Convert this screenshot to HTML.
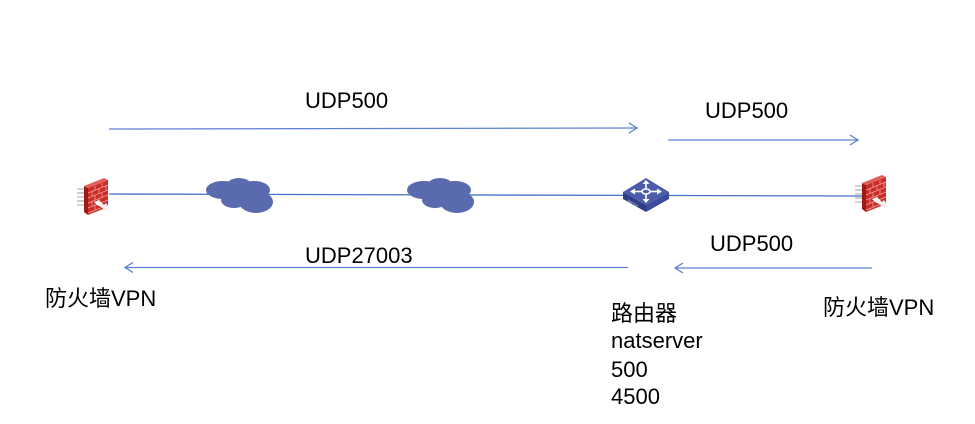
<!DOCTYPE html>
<html>
<head>
<meta charset="utf-8">
<style>
html,body{margin:0;padding:0;background:#fff;}
body{width:975px;height:424px;overflow:hidden;}
svg{display:block;}
text{font-family:"Liberation Sans","Noto Sans CJK SC",sans-serif;font-size:22px;fill:#000;}
</style>
</head>
<body>
<svg width="975" height="424" viewBox="0 0 975 424" xmlns="http://www.w3.org/2000/svg">
<defs>
  <g id="fw">
    <rect x="0" y="11" width="9" height="2" fill="#d4d4d4"/>
    <rect x="0" y="15" width="9" height="2" fill="#cccccc"/>
    <rect x="0" y="19" width="9" height="2" fill="#d4d4d4"/>
    <rect x="0" y="23" width="9" height="2" fill="#cccccc"/>
    <rect x="0" y="27" width="9" height="2" fill="#d4d4d4"/>
    <polygon points="7,9 11,11 11,38 7,35" fill="#9a1a1a"/>
    <polygon points="11,11 31,3 31,30 11,38" fill="#cc2b26"/>
    <polygon points="7,9 27,1 31,3 11,11" fill="#e2605a"/>
    <g stroke="#eaa0a0" stroke-width="0.8">
      <line x1="11" y1="16" x2="31" y2="8"/>
      <line x1="11" y1="21" x2="31" y2="13"/>
      <line x1="11" y1="26" x2="31" y2="18"/>
      <line x1="11" y1="31" x2="31" y2="23"/>
      <line x1="11" y1="36" x2="31" y2="28"/>
      <line x1="18" y1="9" x2="18" y2="13"/>
      <line x1="25" y1="6" x2="25" y2="10"/>
      <line x1="15" y1="14" x2="15" y2="19"/>
      <line x1="22" y1="11" x2="22" y2="16"/>
      <line x1="29" y1="8" x2="29" y2="13"/>
      <line x1="18" y1="18" x2="18" y2="23"/>
      <line x1="25" y1="16" x2="25" y2="20"/>
      <line x1="15" y1="24" x2="15" y2="29"/>
      <line x1="22" y1="21" x2="22" y2="26"/>
      <line x1="18" y1="28" x2="18" y2="33"/>
      <line x1="15" y1="34" x2="15" y2="37"/>
    </g>
    <polygon points="17,25 22,23 27,28 29,26 33,33 25,34 26,31 20,28" fill="#f4f4f4"/>
  </g>
  <g id="cloud" fill="#5a6aae">
    <ellipse cx="17" cy="12" rx="17" ry="9"/>
    <ellipse cx="33" cy="10" rx="14" ry="10"/>
    <ellipse cx="48" cy="12" rx="16" ry="9"/>
    <ellipse cx="28" cy="22" rx="13" ry="8"/>
    <ellipse cx="50" cy="24" rx="17" ry="11"/>
    <ellipse cx="38" cy="18" rx="14" ry="10"/>
  </g>
</defs>

<!-- middle connection line -->
<line x1="109" y1="194" x2="862" y2="196" stroke="#4472c4" stroke-width="1.3"/>

<!-- clouds -->
<use href="#cloud" x="206" y="178"/>
<use href="#cloud" x="407" y="178"/>

<!-- firewalls -->
<use href="#fw" x="77" y="177"/>
<use href="#fw" x="855" y="174"/>

<!-- switch -->
<g>
  <polygon points="623,192 646,205 646,212 623,199" fill="#2f3d86"/>
  <polygon points="646,205 669,192 669,199 646,212" fill="#3b4b9c"/>
  <polygon points="646,178 669,192 646,205 623,192" fill="#4b5cab"/>
  <g stroke="#fff" stroke-width="1.6" fill="none">
    <ellipse cx="646" cy="191.5" rx="4" ry="2.5"/>
    <line x1="646" y1="189" x2="646" y2="182"/>
    <line x1="646" y1="194" x2="646" y2="201"/>
    <line x1="642" y1="191.5" x2="633" y2="191.5"/>
    <line x1="650" y1="191.5" x2="659" y2="191.5"/>
  </g>
  <g fill="#fff">
    <polygon points="646,180 642.5,184 649.5,184"/>
    <polygon points="646,203 642.5,199 649.5,199"/>
    <polygon points="630,191.5 635,188.5 635,194.5"/>
    <polygon points="662,191.5 657,188.5 657,194.5"/>
  </g>
  <text x="627" y="201" transform="rotate(30 627 201)" style="font-size:3px;fill:#dde;">SWITCH</text>
</g>

<!-- arrows -->
<g stroke="#5b80d4" stroke-width="1.3" fill="none">
  <line x1="109" y1="129" x2="637" y2="128"/>
  <polyline points="629,123 637,128 629,133"/>
  <line x1="668" y1="140" x2="858" y2="140"/>
  <polyline points="850,135 858,140 850,145"/>
  <line x1="628" y1="267.5" x2="125" y2="267.5"/>
  <polyline points="133,262.5 125,267.5 133,272.5"/>
  <line x1="872" y1="268" x2="675" y2="268"/>
  <polyline points="683,263 675,268 683,273"/>
</g>

<!-- labels -->
<text x="305" y="108">UDP500</text>
<text x="705" y="118">UDP500</text>
<text x="305" y="263">UDP27003</text>
<text x="710" y="251">UDP500</text>
<text x="45" y="306">防火墙VPN</text>
<text x="823" y="315">防火墙VPN</text>
<text x="611" y="321">路由器</text>
<text x="611" y="348">natserver</text>
<text x="611" y="377">500</text>
<text x="611" y="404">4500</text>
</svg>
</body>
</html>
